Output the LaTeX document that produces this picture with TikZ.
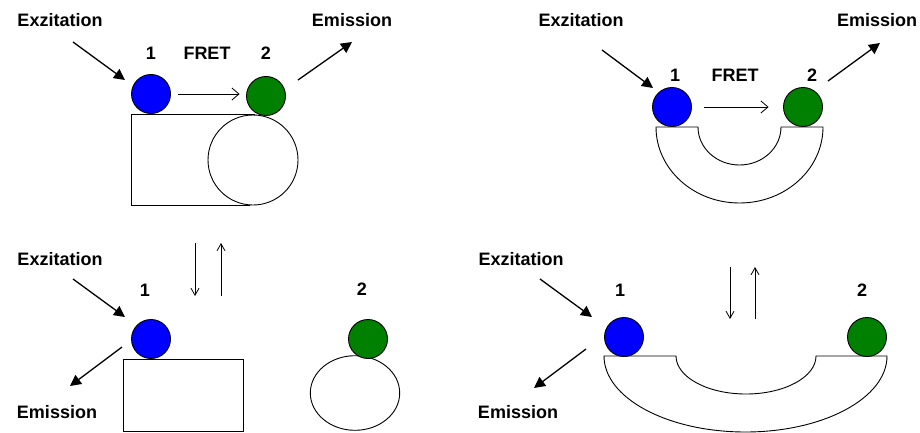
\documentclass[tikz,border=0pt]{standalone}
\usepackage{fontspec}
\setmainfont{Liberation Sans}
\usetikzlibrary{arrows.meta}
\begin{document}
\begin{tikzpicture}[x=1pt,y=-1pt,
  lbl/.style={font=\fontsize{18}{20}\selectfont\bfseries, inner sep=0pt},
  dye/.style={circle, draw=black, line width=0.9pt, minimum size=39pt, inner sep=0pt},
  donor/.style={dye, fill=blue},
  acceptor/.style={dye, fill={rgb,255:red,0;green,128;blue,0}},
  light/.style={line width=1.3pt, -{Triangle[length=11pt,width=11pt]}},
  fret/.style={line width=0.8pt, -{Straight Barb[length=7pt,width=12pt,line width=0.8pt]}},
  eq/.style={line width=0.8pt, -{Straight Barb[length=7pt,width=8pt,line width=0.8pt]}},
  body/.style={draw=black, line width=0.9pt, fill=white}]
\useasboundingbox (0,0) rectangle (920,433);

% ---------- top left ----------
\draw[line width=0.9pt] (255,114) -- (131,114) -- (131,205) -- (250,205);
\draw[body] (253,160) circle (45);
\node[donor] (d1) at (151,94) {};
\node[acceptor] (a1) at (266,96) {};
\node[lbl] (ex1) at (60,20) {Exzitation};
\node[lbl] (em1) at (352,20) {Emission};
\node[lbl] (n11) at (151,53) {1};
\node[lbl] (fr1) at (207,53) {FRET};
\node[lbl] (n12) at (266,53) {2};
\coordinate (ex1s) at (73,42);
\coordinate (ex1e) at (125,80);
\coordinate (em1s) at (298,80);
\coordinate (em1e) at (352,42);
\draw[light] (ex1s) -- (ex1e);
\draw[light] (em1s) -- (em1e);
\draw[fret, shorten <=7.5pt, shorten >=6.5pt] (d1.east) -- (d1.east -| a1.west);

% ---------- top right ----------
\draw[body] (656,127) -- (698,127) arc[start angle=180, end angle=0, x radius=41.5, y radius=38]
  -- (823,127) arc[start angle=0, end angle=180, x radius=83.5, y radius=76] -- cycle;
\node[donor] (d2) at (672,107) {};
\node[acceptor] (a2) at (803,107) {};
\node[lbl] (ex2) at (581,20) {Exzitation};
\node[lbl] (em2) at (877,20) {Emission};
\node[lbl] (n21) at (675,75) {1};
\node[lbl] (fr2) at (735,75) {FRET};
\node[lbl] (n22) at (812,75) {2};
\coordinate (ex2s) at (602,50);
\coordinate (ex2e) at (653,88);
\coordinate (em2s) at (828,81);
\coordinate (em2e) at (880,43);
\draw[light] (ex2s) -- (ex2e);
\draw[light] (em2s) -- (em2e);
\draw[fret, shorten <=12.5pt, shorten >=14.5pt] (d2.east) -- (a2.west);

% ---------- bottom left ----------
\draw[body] (123,359) rectangle (243,431);
\draw[body] (355,393) ellipse[x radius=44.7, y radius=37.3];
\node[donor] (d3) at (151,339) {};
\node[acceptor] (a3) at (368,339) {};
\node[lbl] (ex3) at (60,259) {Exzitation};
\node[lbl] (em3) at (57,412) {Emission};
\node[lbl] (n31) at (145,290) {1};
\node[lbl] (n32) at (362,289) {2};
\coordinate (ex3s) at (73,279);
\coordinate (ex3e) at (125,317);
\coordinate (em3s) at (122,347);
\coordinate (em3e) at (70,386);
\draw[light] (ex3s) -- (ex3e);
\draw[light] (em3s) -- (em3e);
\coordinate (dn3s) at (195,243);
\coordinate (dn3e) at (195,296);
\coordinate (up3s) at (221,296);
\coordinate (up3e) at (221,243);
\draw[eq] (dn3s) -- (dn3e);
\draw[eq] (up3s) -- (up3e);

% ---------- bottom right ----------
\draw[body] (604,356) -- (676,356) arc[start angle=180, end angle=0, x radius=70, y radius=38]
  -- (887,356) arc[start angle=0, end angle=180, x radius=141.5, y radius=76] -- cycle;
\node[donor] (d4) at (624,337) {};
\node[acceptor] (a4) at (867,337) {};
\node[lbl] (ex4) at (521,259) {Exzitation};
\node[lbl] (em4) at (518,412) {Emission};
\node[lbl] (n41) at (620,290) {1};
\node[lbl] (n42) at (862,290) {2};
\coordinate (ex4s) at (540,279);
\coordinate (ex4e) at (592,317);
\coordinate (em4s) at (586,349);
\coordinate (em4e) at (534,388);
\draw[light] (ex4s) -- (ex4e);
\draw[light] (em4s) -- (em4e);
\coordinate (dn4s) at (730,267);
\coordinate (dn4e) at (730,319);
\coordinate (up4s) at (755,319);
\coordinate (up4e) at (755,267);
\draw[eq] (dn4s) -- (dn4e);
\draw[eq] (up4s) -- (up4e);
\end{tikzpicture}
\end{document}
